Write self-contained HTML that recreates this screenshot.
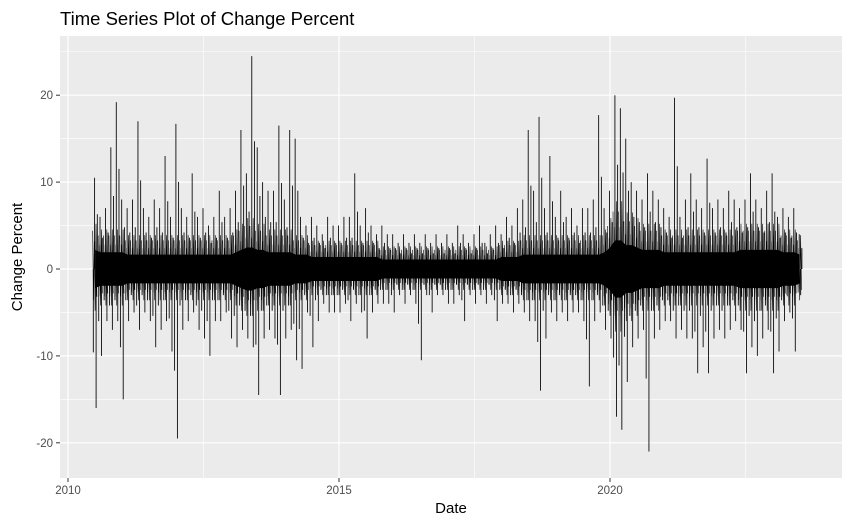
<!DOCTYPE html>
<html><head><meta charset="utf-8"><style>
body{margin:0;background:#fff;}
svg{display:block;font-family:"Liberation Sans",Arial,sans-serif;}
</style></head><body>
<svg id="chart" width="850" height="525" viewBox="0 0 850 525" xmlns="http://www.w3.org/2000/svg">
<rect width="850" height="525" fill="#fff"/>
<text x="60" y="25" font-size="18.5" fill="#000">Time Series Plot of Change Percent</text>
<rect x="60" y="36" width="782" height="442" fill="#ebebeb"/>
<g id="grid"></g>
<g id="series"></g>
<g id="axes"></g>
<text x="451" y="513" font-size="15" text-anchor="middle" fill="#000">Date</text>
<text transform="translate(22,257) rotate(-90)" font-size="15" text-anchor="middle" fill="#000">Change Percent</text>
</svg>
<script>
const startYear = 2010.5, stepYear = 0.1;
const hiVals = [10.5,6,7,14,19.2,8,7,8,17,7, 6,8,7,13,6,16.7,7,6,11,6, 7,5,6,9,6,7,9,16,11,24.5, 14,10,9,9,16.5,8,16,15,6,5, 6,5,4,6,5,5,6,6,11,5, 7,5,4,5,4,4,3,4,3,4, 3,4,3,4,3,4,3,5,4,3, 4,5,3,4,5,4,6,5,7,8, 16,9,17.5,7,13,6,9,6,7,5, 7,7,8,17.7,7,9,20,18.5,15,10, 9,8,11,9,8,7,6,19.7,6,8, 11,8,7,12.7,7,8,7,9,8,7, 8,11,8,7,9,11,6,7,6,7,4];
const loVals = [-16,-10,-6,-7,-6,-15,-6,-5,-7,-5, -6,-9,-7,-6,-9.5,-19.5,-7,-6,-5,-7, -8,-10,-6,-6,-5,-8,-9,-7,-8,-9, -14.5,-8,-7,-8,-14.5,-8,-7,-10.5,-11.5,-5, -9,-6,-4,-5,-5,-5,-4,-6,-4,-5, -8,-5,-4,-4,-4,-5,-3,-4,-3,-4, -10.5,-3,-5,-3,-3,-4,-4,-3,-6,-3, -4,-3,-4,-3,-6,-4,-4,-5,-4,-5, -6,-6,-14,-8,-5,-6,-5,-6,-5,-5, -6,-13.5,-6,-5,-7,-8,-17,-18.5,-13,-9, -8,-7,-21,-8,-7,-6,-6,-8,-7,-8, -8,-12,-9,-12,-8,-7,-8,-7,-6,-7, -12,-9,-10,-8,-7,-12,-9.5,-6,-5,-9.5,-3];
const coreVals = [4,3.5,3.5,3.5,3.5,3.5,3,3,3,3, 3,3,3,3,3,3,3,3,3,3, 3,3,3,3,3,3,3.5,4,4.5,4.5, 4,4,3.5,3.5,3.5,3.5,3.5,3,3,3, 2.5,2.5,2.5,2.5,2.5,2.5,2.5,2.5,2.5,2.5, 2.5,2.5,2.5,2,2,2,2,2,2,2, 2,2,2,2,2,2,2,2,2,2, 2,2,2,2,2,2.5,2.5,2.5,2.5,3, 3,3,3,3,3,3,3,3,3,3, 3,3,3,3,3.5,4.5,6,6,5,5, 4.5,4,4,4,4,3.5,3.5,3.5,3.5,3.5, 3.5,3.5,3.5,3.5,3.5,3.5,3.5,3.5,3.5,4, 4,4,4,4,4,4,4,3.5,3.5,3.5,3];
const yTicks = [-20,-10,0,10,20];
const yMinor = [-15,-5,5,15,25];
const xTicks = [2010,2015,2020];
const xMinor = [2012.5,2017.5,2022.5];

const xS = y => 68 + (y - 2010) * 54.2;
const yS = v => 269 - v * 8.69;
const NS = "http://www.w3.org/2000/svg";
function mk(tag, attrs, parent){const e=document.createElementNS(NS,tag);for(const k in attrs)e.setAttribute(k,attrs[k]);parent.appendChild(e);return e;}
const grid=document.getElementById('grid'), axes=document.getElementById('axes'), ser=document.getElementById('series');
yMinor.forEach(v=>{const l=mk('line',{x1:60,x2:842,y1:yS(v),y2:yS(v),stroke:'#fff','stroke-width':0.6},grid);

});
xMinor.forEach(v=>{const l=mk('line',{x1:xS(v),x2:xS(v),y1:36,y2:478,stroke:'#fff','stroke-width':0.6},grid);

});
yTicks.forEach(v=>{const l=mk('line',{x1:60,x2:842,y1:yS(v),y2:yS(v),stroke:'#fff','stroke-width':1.2},grid);


mk('line',{x1:56,x2:60,y1:yS(v),y2:yS(v),stroke:'#333','stroke-width':1},axes);
const t=mk('text',{x:53,y:yS(v)+4,'font-size':11.5,'text-anchor':'end',fill:'#4d4d4d'},axes);t.textContent=v;

});
xTicks.forEach(v=>{const l=mk('line',{x1:xS(v),x2:xS(v),y1:36,y2:478,stroke:'#fff','stroke-width':1.2},grid);


mk('line',{x1:xS(v),x2:xS(v),y1:478,y2:482,stroke:'#333','stroke-width':1},axes);
const t=mk('text',{x:xS(v),y:494,'font-size':11.5,'text-anchor':'middle',fill:'#4d4d4d'},axes);t.textContent=v;

});
// core band (densest part)
let up=[],dn=[];
coreVals.forEach((c,i)=>{const x=xS(startYear+i*stepYear);up.push(x+','+yS(c*0.55));dn.unshift(x+','+yS(-c*0.55));});
const core=mk('polygon',{points:up.concat(dn).join(' '),fill:'#000'},ser);


// fringe texture
let f='';
coreVals.forEach((c,i)=>{const x=xS(startYear+i*stepYear);
f+=`M${x-2.4},${yS(c*1.1)}L${x-1.6},${yS(-c*0.9)}L${x-0.8},${yS(c*0.8)}L${x},${yS(-c*1.2)}L${x+0.9},${yS(c*1.3)}L${x+1.8},${yS(-c*0.8)}`;});
const fr=mk('path',{d:f,fill:'none',stroke:'#000','stroke-width':0.6},ser);


// spikes
let d='';
hiVals.forEach((h,i)=>{const x=xS(startYear+i*stepYear);const lo=loVals[i];
d+=`M${x-0.5},${yS(0)}L${x-0.5},${yS(h)}M${x+1},${yS(0)}L${x+1},${yS(lo)}M${x+2.2},${yS(0)}L${x+2.2},${yS(h*0.6)}M${x-1.8},${yS(0)}L${x-1.8},${yS(lo*0.6)}`;});
const sp=mk('path',{d:d,fill:'none',stroke:'#000','stroke-width':0.85},ser);


</script>
</body></html>
